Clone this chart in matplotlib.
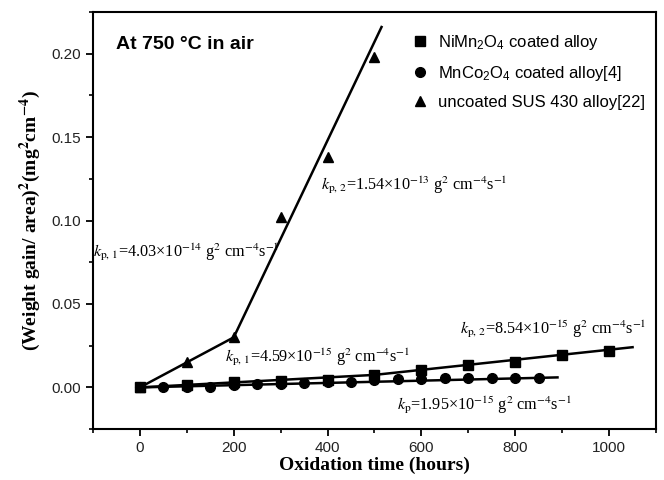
import numpy as np
import matplotlib
matplotlib.use("Agg")
from matplotlib import pyplot as plt

# data (hours, mg^2 cm^-4)
t_ni = [0, 100, 200, 300, 400, 500, 600, 700, 800, 900, 1000]
w_ni = [0.0, 0.0015, 0.0030, 0.0038, 0.0046, 0.0076, 0.0106, 0.0136, 0.0152, 0.0195, 0.0217]

t_co = [0, 50, 100, 150, 200, 250, 300, 350, 400, 450, 500, 550, 600, 650, 700, 750, 800, 850]
w_co = [0.0, 0.0, 0.0004, 0.0004, 0.0012, 0.0020, 0.0022, 0.0026, 0.0030, 0.0034, 0.0042, 0.0050,
        0.0052, 0.0054, 0.0054, 0.0056, 0.0058, 0.0056]

t_sus = [0, 100, 200, 300, 400, 500]
w_sus = [0.0, 0.015, 0.030, 0.102, 0.138, 0.198]

# fitted lines (end points)
fit_ni1_t = [0, 500]
fit_ni1_w = [0.0, 0.0075]
fit_ni2_t = [500, 1050]
fit_ni2_w = [0.0075, 0.0241]
fit_co_t = [0, 890]
fit_co_w = [0.0, 0.0060]
fit_sus1_t = [0, 200]
fit_sus1_w = [0.0, 0.030]
fit_sus2_t = [200, 515]
fit_sus2_w = [0.030, 0.216]

labels = ["NiMn$_2$O$_4$ coated alloy", "MnCo$_2$O$_4$ coated alloy[4]", "uncoated SUS 430 alloy[22]"]

plt.rcParams['font.family'] = ['Liberation Sans', 'DejaVu Sans']
plt.rcParams['mathtext.fontset'] = 'custom'
plt.rcParams['mathtext.rm'] = 'Liberation Sans'
plt.rcParams['mathtext.it'] = 'Liberation Sans:italic'

fig = plt.figure(figsize=(6.64, 4.8), dpi=100)
ax = fig.add_axes([0.140, 0.106, 0.848, 0.869])

lw = 1.8
for tt, ww in [(fit_ni1_t, fit_ni1_w), (fit_ni2_t, fit_ni2_w), (fit_co_t, fit_co_w),
               (fit_sus1_t, fit_sus1_w), (fit_sus2_t, fit_sus2_w)]:
    ax.plot(tt, ww, color='black', lw=lw, zorder=2)

ax.plot(t_ni, w_ni, 's', color='black', ms=6.5, ls='none', label=labels[0], zorder=3)
ax.plot(t_co, w_co, 'o', color='black', ms=7, ls='none', label=labels[1], zorder=3)
ax.plot(t_sus, w_sus, '^', color='black', ms=7.5, ls='none', label=labels[2], zorder=3)

ax.set_xlim(-100, 1100)
ax.set_ylim(-0.025, 0.225)
ax.set_xticks([0, 200, 400, 600, 800, 1000])
ax.set_xticks(np.arange(-100, 1101, 100), minor=True)
ax.set_yticks([0.0, 0.05, 0.10, 0.15, 0.20])
ax.set_yticks(np.arange(-0.025, 0.226, 0.025), minor=True)
ax.yaxis.set_major_formatter(matplotlib.ticker.FormatStrFormatter('%.2f'))
ax.tick_params(which='major', direction='out', length=5, width=1.3, labelsize=11, colors='black',
               labelcolor='#222222')
ax.tick_params(which='minor', direction='out', length=3, width=1.2)
for s in ax.spines.values():
    s.set_linewidth(1.5)

serif = ['Liberation Serif', 'DejaVu Serif']
ax.set_xlabel("Oxidation time (hours)", fontsize=14, fontweight='bold', family=serif,
              math_fontfamily='stix', labelpad=1)
ax.set_ylabel(r"(Weight gain/ area)$^\mathbf{2}$(mg$^\mathbf{2}$cm$^\mathbf{-4}$)", fontsize=14,
              fontweight='bold', family=serif, math_fontfamily='stix', labelpad=6)

ax.text(-50, 0.2055, "At 750 °C in air", fontsize=14, fontweight='bold', va='center')

leg = ax.legend(loc='upper left', bbox_to_anchor=(0.54, 0.985), frameon=False, fontsize=12,
                handletextpad=0.55, labelspacing=0.72, handlelength=1.0)

ann = [
    (386, 0.121, r"$k_{\mathrm{p,\,2}}$=1.54×10$^{-13}$ g$^2$ cm$^{-4}$s$^{-1}$"),
    (-100, 0.081, r"$k_{\mathrm{p,\,1}}$=4.03×10$^{-14}$ g$^2$ cm$^{-4}$s$^{-1}$"),
    (182, 0.0180, r"$k_{\mathrm{p,\,1}}$=4.59×10$^{-15}$ g$^2$ cm$^{-4}$s$^{-1}$"),
    (682, 0.0350, r"$k_{\mathrm{p,\,2}}$=8.54×10$^{-15}$ g$^2$ cm$^{-4}$s$^{-1}$"),
    (549, -0.0105, r"$k_{\mathrm{p}}$=1.95×10$^{-15}$ g$^2$ cm$^{-4}$s$^{-1}$"),
]
for x, y, s in ann:
    ax.text(x, y, s, fontsize=11.7, family=serif, math_fontfamily='stix', va='center', ha='left')

fig.savefig("out.png", dpi=100)
